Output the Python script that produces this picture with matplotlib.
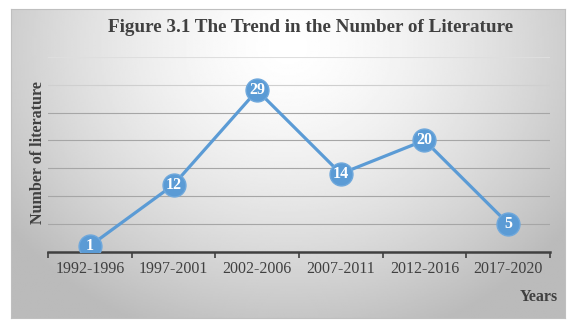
import numpy as np
import matplotlib.pyplot as plt

# data
periods = ['1992-1996', '1997-2001', '2002-2006', '2007-2011', '2012-2016', '2017-2020']
counts = [1, 12, 29, 14, 20, 5]

title = 'Figure 3.1 The Trend in the Number of Literature'
serif = ['Liberation Serif', 'DejaVu Serif']
txt = '#404040'
blue = '#5b9bd5'

W, H = 579, 331
fig = plt.figure(figsize=(W / 100, H / 100), dpi=100)
fig.patch.set_facecolor('white')

# card with radial gray gradient
bg = fig.add_axes([11 / W, (H - 318) / H, (565 - 11) / W, (318 - 9) / H])
gx, gy = np.meshgrid(np.linspace(0, 1, 300), np.linspace(0, 1, 200))
d = np.sqrt(((gx - 0.5) / 0.6) ** 2 + ((gy - 0.12) / 0.95) ** 2)
shade = 1.0 - 0.25 * np.clip(d, 0, 1.05) ** 1.5
bg.imshow(shade, cmap='gray', vmin=0, vmax=1, aspect='auto', extent=[0, 1, 1, 0])
bg.set_xlim(0, 1)
bg.set_ylim(1, 0)
bg.set_xticks([])
bg.set_yticks([])
for s in bg.spines.values():
    s.set_color('#bfbfbf')
    s.set_linewidth(0.8)

# plot area
ax = fig.add_axes([48 / W, (H - 251.5) / H, (550 - 48) / W, (251.5 - 57) / H])
ax.patch.set_alpha(0)
x = np.arange(len(periods))
ax.plot(x, counts, color=blue, lw=2.3, marker='o', ms=16.5,
        mfc=blue, mec='#6fa8dc', mew=1.0, zorder=3)
for xi, v in zip(x, counts):
    ax.text(xi, v, str(v), ha='center', va='center', color='white',
            fontsize=11.5, fontweight='bold', family=serif, zorder=4)

ax.set_xlim(-0.5, len(periods) - 0.5)
ax.set_ylim(0, 35)
ax.set_yticks(np.arange(5, 36, 5))
ax.tick_params(axis='y', length=0, labelleft=False)
ax.yaxis.grid(True, color='#a6a6a6', lw=0.8)
gl = ax.get_ygridlines()
gl[-1].set_color('#dedede')
gl[-2].set_color('#cfcfcf')
ax.set_axisbelow(True)

ax.set_xticks(x)
ax.set_xticklabels(periods, family=serif, fontsize=11.5, color=txt)
ax.tick_params(axis='x', which='major', length=0, pad=7)
ax.set_xticks(np.arange(-0.5, len(periods)), minor=True)
ax.tick_params(axis='x', which='minor', length=4, width=1.2, color='#404040', direction='out')

for s in ['top', 'right', 'left']:
    ax.spines[s].set_visible(False)
ax.spines['bottom'].set_color('#404040')
ax.spines['bottom'].set_linewidth(1.8)

fig.text(311 / W, 1 - 28 / H, title, ha='center', va='center', family=serif,
         fontsize=13.8, fontweight='bold', color=txt)
fig.text(38 / W, 1 - 153 / H, 'Number of literature', ha='center', va='center',
         rotation=90, family=serif, fontsize=11.5, fontweight='bold', color=txt)
fig.text(558 / W, 1 - 297 / H, 'Years', ha='right', va='center', family=serif,
         fontsize=11.5, fontweight='bold', color=txt)

fig.savefig('out.png', dpi=100)
